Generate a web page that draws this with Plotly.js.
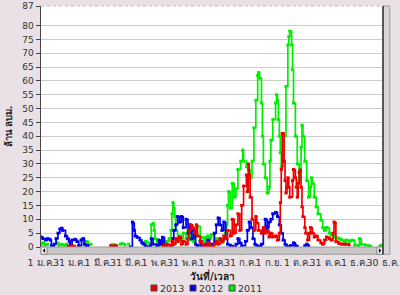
<!DOCTYPE html>
<html>
<head>
<meta charset="utf-8">
<script src="https://cdn.plot.ly/plotly-3.0.1.min.js"></script>
<style>html,body{margin:0;padding:0;background:#e9e1e5;}#chart{width:400px;height:295px;}</style>
</head>
<body>
<div id="chart"></div>
<script>
// Day of year (0 = 1 Jan) and volumes (million m3); null breaks a gap
var days2013 = [29,31,33,36,null,74,77,80,null,130,132,134,137,139,141,143,145,147,149,151,154,156,157,159,161,163,165,166,169,171,173,175,177,179,181,184,186,188,190,192,194,196,198,201,203,205,207,209,211,213,215,218,219,220,221,222,224,226,228,229,231,234,236,238,240,242,244,246,249,251,253,254,255,256,257,258,259,260,261,262,263,264,267,268,270,271,272,273,274,275,276,277,278,280,281,283,285,286,288,290,292,294,297,299,301,303,306,308,310,311,312,313,316,319,322,324,327];
var vals2013 = [0.3,0,0.5,0,null,0.5,0.3,0.5,null,0.5,0,1,0.3,2,1,3,2,3.5,1,2,1,3,6,8,7,5,8,4,2,1,0.5,0.3,1.5,0.5,0.3,1,2,1,3,2,4,3,6,4,10,5,8,12,6,15,22,26,20,30,26,18,10,6,11,8.7,6,5,7,5,6,3.6,5,3.6,4,2.5,5,16,28,41,41,31,24,19.5,21.6,25,21.6,18,24,28,25,21.6,18,23,27,27.8,21.6,14.5,11,7,5,2.5,5,7,5,3.6,4,2.5,1.5,1,2.5,3.6,3,2.5,5,9,8.7,2,1.3,1,1,1,0.8];

var days2012 = [0,2,5,7,10,11,13,14,16,18,20,22,23,26,28,30,31,33,36,38,40,43,45,46,48,50,null,95,97,98,99,100,102,105,107,109,111,113,null,116,117,119,123,125,127,129,131,133,138,140,141,143,145,147,149,151,154,156,158,160,162,164,166,169,171,173,175,177,179,181,184,186,188,190,192,194,196,198,201,204,207,209,211,213,217,219,221,223,225,227,229,232,234,236,238,240,242,244,246,249,251,253,255,257,259,261,265,268,270,272,null,280,282,284];
var vals2012 = [3.6,3,2.5,3,2.5,0.5,0,1,3,5,6.5,6.8,6,4,3,2,0.8,2.5,2.8,2,0.5,2.5,3,1,0.2,0.5,null,0,9,8.5,6,4,3.5,2.5,1.5,1,0.2,0,null,0.5,3,1,0.5,2.5,1,3.5,0.5,0,0.5,3,6,8,11,9,11,7,10,5,8,3,6,1,0.5,2,0.5,0,1,2.5,0.5,1,5,8,10.5,8,6,9,3,1,0.5,0,1,3,1.5,0.5,2,6,9,7,3,1,0.5,0,1,6,10,7,9,10,12,12.5,11,8,5,2.5,1,0.3,0.5,1.5,0.5,0.2,null,0.5,1,0.2];

var days2011 = [0,2,4,7,null,17,19,22,25,27,null,42,44,46,48,50,null,53,null,76,78,null,84,86,89,null,93,null,109,111,113,116,117,119,120,121,123,125,127,129,131,133,136,138,139,140,141,142,143,145,147,149,151,154,156,158,160,162,164,166,169,171,173,175,177,179,181,184,186,188,190,192,194,196,197,198,199,201,203,205,207,209,212,214,215,218,220,222,224,226,228,230,231,232,234,235,236,238,240,242,243,244,246,249,250,251,252,253,254,255,257,258,260,262,263,264,266,267,268,270,272,274,275,276,277,278,280,282,284,286,287,288,290,292,294,297,299,301,303,306,308,312,316,319,322,324,327,330,333,337,338,340,344,348,350,null,356,360,363];
var vals2011 = [1,1.5,0.8,1,null,1.5,0.5,1,0.5,1,null,2.5,3,1.5,2,0.5,null,1,null,0.8,0.8,null,1,1.2,0.8,null,1,null,1.5,2,1.5,1,8,8.5,6,3,1,0.5,2,3,1.5,2,3,6,12,16,14,11,6,2,4,3,5,3,6,2.5,4,2,4,7.5,3,3.5,2,3.5,4,3,4.5,2,3,2.5,3,1.5,3,5,8,15,20,14,23,18,21,28,31,35,31,29,28,25,31,43,53,62,63,61,52,40,30,25,19.5,21.6,31,38.6,46,52,55,53,46,40,34,29,34,40,58,73,76,78,73,64,52,40,30,24,28,36,44,40,31,24,18,21.6,25,23,18,14.5,12,9.7,7,6,7,5,4.3,3.5,3,2.5,2,2.5,2,2.5,0.7,0.5,3,1,0.7,0.3,0.3,0.2,null,0.5,0.8,0.5];

var seriesNames = ['2011','2012','2013'];
var seriesColors = ['#00ee00','#0000ee','#ee0000'];

var xTickVals = [0,30.25,60.5,90.75,121,151.25,181.5,211.75,242,272.25,302.5,332.75,363];
var xTickText = ['1 ม.ค.','31 ม.ค.','1 มี.ค.','31 มี.ค.','1 พ.ค.','31 พ.ค.','1 ก.ค.','31 ก.ค.','1 ก.ย.','1 ต.ค.','31 ต.ค.','1 ธ.ค.','30 ธ.ค.'];
var yTickVals = [0,5,10,15,20,25,30,35,40,45,50,55,60,65,70,75,80,87];
var xTitle = 'วันที่/เวลา';
var yTitle = 'ล้าน ลบม.';

var xs = [days2011, days2012, days2013];
var ys = [vals2011, vals2012, vals2013];

var traces = [];
for (var i = 0; i < 3; i++) {
  traces.push({
    x: xs[i], y: ys[i], type: 'scatter', mode: 'lines+markers', name: seriesNames[i],
    line: {color: seriesColors[i], width: 1.7, shape: 'hv'},
    marker: {symbol: 'square', size: 3, color: seriesColors[i]},
    connectgaps: false, showlegend: false, hoverinfo: 'skip', cliponaxis: true
  });
}

var font = '"DejaVu Sans", "Noto Sans", sans-serif';

var plotL = 41, plotW = 342, plotT = 6, plotH = 241;
function px2paperX(p) { return (p - plotL) / plotW; }
function px2paperY(p) { return (plotT + plotH - p) / plotH; }

var shapes = [
  {type: 'line', xref: 'paper', yref: 'paper', x0: 0, x1: 1, y0: 1, y1: 1, line: {color: '#bbbbbb', width: 1, dash: 'dot'}},
  // horizontal scrollbar
  {type: 'rect', xref: 'paper', yref: 'paper', x0: 0, x1: 1, y0: -0.03, y1: 0, fillcolor: '#c9c6c8', line: {color: '#9a9a9a', width: 1}},
  {type: 'rect', xref: 'paper', yref: 'paper', x0: 0, x1: 0.018, y0: -0.03, y1: 0, fillcolor: '#f2f2f2', line: {color: '#888', width: 1}},
  {type: 'rect', xref: 'paper', yref: 'paper', x0: 0.982, x1: 1, y0: -0.03, y1: 0, fillcolor: '#f2f2f2', line: {color: '#888', width: 1}},
  {type: 'path', xref: 'paper', yref: 'paper', path: 'M 0.005 -0.015 L 0.012 -0.005 L 0.012 -0.025 Z', fillcolor: '#000', line: {width: 0}},
  {type: 'path', xref: 'paper', yref: 'paper', path: 'M 0.995 -0.015 L 0.988 -0.005 L 0.988 -0.025 Z', fillcolor: '#000', line: {width: 0}},
  // right vertical bar
  {type: 'rect', xref: 'paper', yref: 'paper', x0: 1, x1: 1.02, y0: -0.03, y1: 1, fillcolor: '#d8d5d7', line: {color: '#9a9a9a', width: 1}},
  {type: 'line', xref: 'paper', yref: 'paper', x0: 1, x1: 1, y0: -0.03, y1: 1, line: {color: '#333', width: 1.5}}
];
var annotations = [
  {xref: 'paper', yref: 'paper', x: px2paperX(212), y: px2paperY(275), xanchor: 'center', yanchor: 'middle',
   text: '<b>' + xTitle + '</b>', showarrow: false, font: {size: 10, color: '#222'}}
];

// compact legend (order 2013, 2012, 2011): squares + real text
var legendOrder = [2, 1, 0];
var legendX = [151, 190, 229];
for (var k = 0; k < 3; k++) {
  var s = legendOrder[k];
  var lx = legendX[k];
  shapes.push({type: 'rect', xref: 'paper', yref: 'paper',
    x0: px2paperX(lx), x1: px2paperX(lx + 6), y0: px2paperY(291), y1: px2paperY(285),
    fillcolor: seriesColors[s], line: {color: '#444', width: 1}});
  annotations.push({xref: 'paper', yref: 'paper', x: px2paperX(lx + 7), y: px2paperY(288),
    xanchor: 'left', yanchor: 'middle', text: seriesNames[s], showarrow: false,
    font: {size: 9.5, color: '#333'}});
}

var layout = {
  width: 400, height: 295,
  paper_bgcolor: '#e9e1e5', plot_bgcolor: '#ffffff',
  margin: {l: 41, r: 17, t: 6, b: 48},
  font: {family: font, size: 10, color: '#333333'},
  showlegend: false,
  xaxis: {
    range: [0, 363], tickmode: 'array', tickvals: xTickVals, ticktext: xTickText, tickangle: 0,
    ticks: 'outside', ticklen: 7, tickcolor: '#444', showgrid: false, zeroline: false,
    showline: false, tickfont: {size: 9.5, color: '#333'}, automargin: false
  },
  yaxis: {
    range: [0, 87.05], tickmode: 'array', tickvals: yTickVals, automargin: false, ticklabeloverflow: 'allow',
    ticks: 'outside', ticklen: 4, tickcolor: '#444', showgrid: true, gridcolor: '#cccccc', gridwidth: 1,
    zeroline: false, showline: true, linecolor: '#444', linewidth: 1.5,
    tickfont: {size: 9, color: '#333'},
    title: {text: '<b>' + yTitle + '</b>', font: {size: 9.5, color: '#222'}, standoff: 8}
  },
  shapes: shapes,
  annotations: annotations
};

Plotly.newPlot('chart', traces, layout, {displayModeBar: false, staticPlot: true});
</script>
</body>
</html>
